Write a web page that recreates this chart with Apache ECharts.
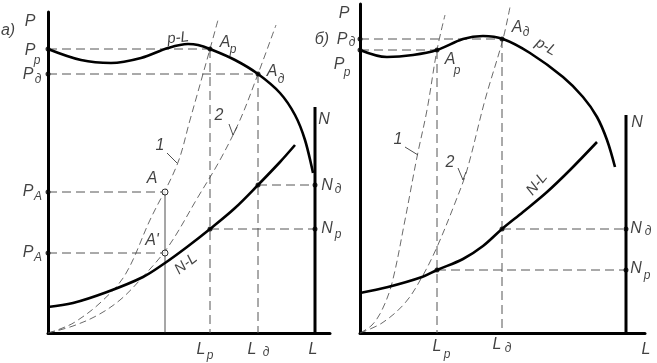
<!DOCTYPE html>
<html><head><meta charset="utf-8">
<script src="https://cdn.jsdelivr.net/npm/echarts@6/dist/echarts.min.js"></script>
<style>html,body{margin:0;padding:0;background:#fff}#c{width:657px;height:363px}</style>
</head><body><div id="c"></div>
<script>
// ---- Panel а) (left) : values in drawing units, origin at axes crossing ----
const leftPL = [[0,284],[33,273],[63,270],[93,275],[120,285],[140,289],[150,288],[162,284],[187,273],[210,259],[232,240],[247,218],[257,193],[265,160]];
const leftNL = [[0,26],[25,30],[59,41],[95,56],[117,70],[139,86],[162,104],[187,125],[210,148],[232,171],[247,188]];
const leftCurve1 = [[0,0],[12,4],[27,11],[52,30],[77,58],[102,113],[129,168],[142,213],[162,284],[170,313]];
const leftCurve2 = [[0,0],[25,7],[50,18],[72,33],[92,53],[120,86],[150,136],[172,173],[192,213],[210,259],[228,308]];
const leftDashed = [
  [[0,284],[162,284]], [[0,259],[210,259]], [[162,284],[162,0]], [[210,259],[210,0]],
  [[0,141],[117,141]], [[0,80],[117,80]], [[210,148],[267,148]], [[162,104],[267,104]]
];
const leftThin = [[[117,141],[117,0]], [[119,180],[129,170]], [[181,209],[185,198],[189,206]]];
const leftNAxis = [[267,0],[267,226]];
const leftDots = [[0,284],[0,259],[162,284],[210,259],[0,141],[0,80],[162,104],[210,148],[267,148],[267,104]];
const leftOpen = [[117,141],[117,80]];
const leftLabels = [
  [-40,302,'а)'],[-18,311,'P'],[-18,282,'P'],[-20,258,'P'],[-20,141,'P'],[-20,80,'P'],
  [177,290,'A'],[224,261,'A'],[112,187,'1'],[171,217,'2'],[104,154,'A'],[104,92,"A'"],
  [276,213,'N'],[279,147,'N'],[279,104,'N'],[153,-17,'L'],[204,-17,'L'],[265,-17,'L']
];
const leftSubs = [
  [-11,272,'р'],[-10,253,'д'],[-10,136,'A'],[-10,75,'A'],[185,283,'р'],[233,253,'д'],
  [290,143,'д'],[290,98,'р'],[162,-23,'р'],[218,-20,'д']
];
const leftTilted = [[130,295,'р-L',6],[138,69,'N-L',38]];

// ---- Panel б) (right) ----
const rightPL = [[0,283],[27,276],[53,278],[77,283],[103,294],[123,297],[143,294],[170,280],[203,256],[223,236],[237,216],[247,193],[255,166]];
const rightNL = [[0,40],[28,46],[62,56],[77,63],[103,74],[123,87],[142,104],[163,121],[187,141],[210,163],[237,191]];
const rightCurve1 = [[0,0],[12,8],[22,23],[32,50],[45,113],[57,176],[67,223],[77,283],[85,318]];
const rightCurve2 = [[0,0],[22,10],[45,30],[62,56],[77,86],[95,130],[107,163],[125,233],[143,294],[150,326]];
const rightDashed = [
  [[0,294],[142,294]], [[0,283],[77,283]], [[77,283],[77,0]], [[142,294],[142,0]],
  [[77,63],[266,63]], [[142,104],[266,104]]
];
const rightThin = [[[45,186],[58,178]], [[98,165],[103,153],[106,161]]];
const rightNAxis = [[266,0],[266,218]];
const rightDots = [[0,294],[0,283],[77,283],[142,294],[77,63],[142,104],[266,104],[266,63]];
const rightLabels = [
  [-38,293,'б)'],[-16,319,'P'],[-18,293,'P'],[-21,268,'P'],[157,305,'A'],[90,273,'A'],
  [38,193,'1'],[90,170,'2'],[277,210,'N'],[276,104,'N'],[276,64,'N'],
  [77,-14,'L'],[137,-12,'L'],[286,-17,'L']
];
const rightSubs = [
  [-8,290,'д'],[-13,260,'р'],[166,300,'д'],[97,262,'р'],[288,101,'д'],[287,57,'р'],[87,-22,'р'],[148,-16,'д']
];
const rightTilted = [[186,286,'р-L',-30],[177,149,'N-L',50]];

const FONT = '"Liberation Sans Narrow","Liberation Sans","DejaVu Sans",sans-serif';
const INK = '#111';

function axisX(g, max){ return {gridIndex:g,type:'value',min:0,max:max,
  axisLine:{show:true,onZero:false,lineStyle:{color:'#000',width:3}},
  axisTick:{show:false},axisLabel:{show:false},splitLine:{show:false}}; }
function axisY(g, max){ return {gridIndex:g,type:'value',min:0,max:max,
  axisLine:{show:true,onZero:false,lineStyle:{color:'#000',width:3}},
  axisTick:{show:false},axisLabel:{show:false},splitLine:{show:false}}; }

function line(g, data, style, smooth){
  return {type:'line',xAxisIndex:g,yAxisIndex:g,data:data,symbol:'none',showSymbol:false,
    smooth:smooth||false,clip:false,silent:true,animation:false,lineStyle:style,z:3};
}
function texts(g, arr, size){
  return {type:'scatter',xAxisIndex:g,yAxisIndex:g,symbolSize:0,clip:false,silent:true,animation:false,
    data:arr.map(t=>({value:[t[0],t[1]],label:{formatter:t[2],rotate:t[3]||0}})),
    label:{show:true,position:'inside',fontSize:size,fontStyle:'italic',fontFamily:FONT,color:INK},z:6};
}
function panel(g, d){
  const s = [];
  d.dashed.forEach(seg=>s.push(line(g, seg, {color:'#555',width:1,type:[9,5]})));
  d.thin.forEach(seg=>s.push(line(g, seg, {color:'#222',width:0.8})));
  s.push(line(g, d.c1, {color:'#444',width:0.8,type:[7,4]}, 0.35));
  s.push(line(g, d.c2, {color:'#444',width:0.8,type:[7,4]}, 0.35));
  s.push(line(g, d.nAxis, {color:'#000',width:3}));
  s.push(line(g, d.pl, {color:'#000',width:2.6}, 0.35));
  s.push(line(g, d.nl, {color:'#000',width:2.6}, 0.35));
  s.push({type:'scatter',xAxisIndex:g,yAxisIndex:g,data:d.dots,symbol:'circle',symbolSize:5,clip:false,silent:true,
    itemStyle:{color:'#000'},z:5,animation:false});
  if (d.open) s.push({type:'scatter',xAxisIndex:g,yAxisIndex:g,data:d.open,symbol:'circle',symbolSize:6,clip:false,silent:true,
    itemStyle:{color:'#fff',borderColor:'#000',borderWidth:1},z:5,animation:false});
  s.push(texts(g, d.labels, 16));
  s.push(texts(g, d.subs, 12));
  s.push(texts(g, d.tilted, 15));
  return s;
}

const series = [].concat(
  panel(0,{dashed:leftDashed,thin:leftThin,c1:leftCurve1,c2:leftCurve2,nAxis:leftNAxis,pl:leftPL,nl:leftNL,
    dots:leftDots,open:leftOpen,labels:leftLabels,subs:leftSubs,tilted:leftTilted}),
  panel(1,{dashed:rightDashed,thin:rightThin,c1:rightCurve1,c2:rightCurve2,nAxis:rightNAxis,pl:rightPL,nl:rightNL,
    dots:rightDots,open:null,labels:rightLabels,subs:rightSubs,tilted:rightTilted})
);

const chart = echarts.init(document.getElementById('c'), null, {renderer:'canvas'});
chart.setOption({
  backgroundColor:'#fff',
  animation:false,
  grid:[{left:48,top:12,width:282,height:321},{left:360,top:4,width:285,height:329}],
  xAxis:[axisX(0,282),axisX(1,285)],
  yAxis:[axisY(0,321),axisY(1,329)],
  series:series
});
</script></body></html>
